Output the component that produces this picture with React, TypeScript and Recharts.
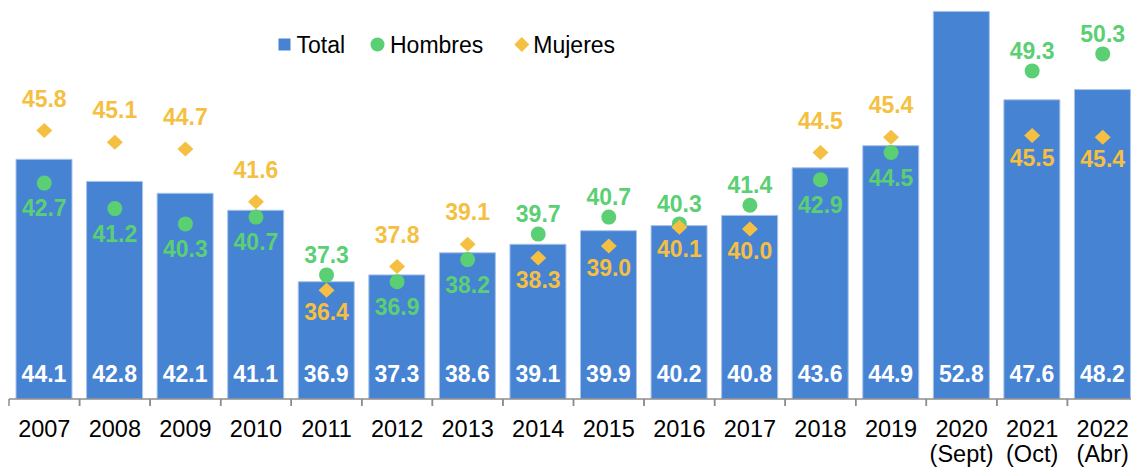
import React from 'react';
import { ComposedChart, Bar, Line, XAxis, YAxis, LabelList } from 'recharts';

const categories = ['2007', '2008', '2009', '2010', '2011', '2012', '2013', '2014', '2015', '2016', '2017', '2018', '2019', '2020 (Sept)', '2021 (Oct)', '2022 (Abr)'];
const total = [44.1, 42.8, 42.1, 41.1, 36.9, 37.3, 38.6, 39.1, 39.9, 40.2, 40.8, 43.6, 44.9, 52.8, 47.6, 48.2];
const hombres: (number | null)[] = [42.7, 41.2, 40.3, 40.7, 37.3, 36.9, 38.2, 39.7, 40.7, 40.3, 41.4, 42.9, 44.5, null, 49.3, 50.3];
const mujeres: (number | null)[] = [45.8, 45.1, 44.7, 41.6, 36.4, 37.8, 39.1, 38.3, 39.0, 40.1, 40.0, 44.5, 45.4, null, 45.5, 45.4];
const hombresLabelSide = ['below', 'below', 'below', 'below', 'above', 'below', 'below', 'above', 'above', 'above', 'above', 'below', 'below', '', 'above', 'above'];
const mujeresLabelSide = ['above', 'above', 'above', 'above', 'below', 'above', 'above', 'below', 'below', 'below', 'below', 'above', 'above', '', 'below', 'below'];

const data = categories.map((c, i) => ({
  category: c,
  total: total[i],
  hombres: hombres[i],
  mujeres: mujeres[i],
}));

const BLUE = '#4683D3';
const GREEN = '#5BCF74';
const GOLD = '#F5BF42';
const FONT = "'Liberation Sans', Arial, sans-serif";

const CHART_W = 1150;
const CHART_H = 470;
const M = { top: 0, right: 12, bottom: 0, left: 9 };
const XAXIS_H = 71;
const PLOT_BOTTOM = CHART_H - M.bottom - XAXIS_H;
const BAND = (CHART_W - M.left - M.right) / categories.length;

const LABEL_SIZE = 23;

function makeDot(kind: 'circle' | 'diamond', color: string, sides: string[], above: number, below: number) {
  return (props: any) => {
    const { cx, cy, index, value } = props;
    const key = `${kind}-${index}`;
    if (value === null || value === undefined || cy === null || cy === undefined || isNaN(cy)) {
      return <g key={key} />;
    }
    const side = sides[index];
    const labelCenter = side === 'above' ? cy - above : cy + below;
    const v = Array.isArray(value) ? value[1] : value;
    return (
      <g key={key}>
        {kind === 'circle' ? (
          <circle cx={cx} cy={cy} r={7.5} fill={color} />
        ) : (
          <path d={`M${cx},${cy - 7.5} L${cx + 8},${cy} L${cx},${cy + 7.5} L${cx - 8},${cy} Z`} fill={color} />
        )}
        <text
          x={cx}
          y={labelCenter + 8.2}
          textAnchor="middle"
          fill={color}
          fontSize={LABEL_SIZE}
          fontWeight="bold"
          fontFamily={FONT}
        >
          {Number(v).toFixed(1)}
        </text>
      </g>
    );
  };
}

const TotalLabel = (props: any) => {
  const { x, y, width, height, value } = props;
  return (
    <text
      x={x + width / 2}
      y={y + height - 17}
      textAnchor="middle"
      fill="#ffffff"
      fontSize={LABEL_SIZE}
      fontWeight="bold"
      fontFamily={FONT}
    >
      {Number(value).toFixed(1)}
    </text>
  );
};

const AxisTick = (props: any) => {
  const { x, payload } = props;
  const parts = String(payload.value).split(' ');
  const bx = x - BAND / 2;
  return (
    <g>
      <line x1={bx} x2={bx} y1={PLOT_BOTTOM} y2={PLOT_BOTTOM + 7} stroke="#8c8c8c" strokeWidth={1.5} />
      <line x1={x + BAND / 2} x2={x + BAND / 2} y1={PLOT_BOTTOM} y2={PLOT_BOTTOM + 7} stroke="#8c8c8c" strokeWidth={1.5} />
      {parts.map((p, i) => (
        <text
          key={i}
          x={x}
          y={PLOT_BOTTOM + 37.5 + i * 25.5}
          textAnchor="middle"
          fill="#000000"
          fontSize={23.5}
          fontFamily={FONT}
        >
          {p}
        </text>
      ))}
    </g>
  );
};

const LegendOverlay = () => (
  <svg
    width={1131}
    height={80}
    style={{ position: 'absolute', left: 0, top: 0, pointerEvents: 'none' }}
  >
    <rect x={278.5} y={38.5} width={12} height={12} fill={BLUE} />
    <text x={296.5} y={52.7} fontSize={23} fontFamily={FONT} fill="#000">Total</text>
    <circle cx={377.5} cy={44.5} r={7} fill={GREEN} />
    <text x={390} y={52.7} fontSize={23} fontFamily={FONT} fill="#000">Hombres</text>
    <path d="M521.8,37 L529.3,44.5 L521.8,52 L514.3,44.5 Z" fill={GOLD} />
    <text x={533.3} y={52.7} fontSize={23} fontFamily={FONT} fill="#000">Mujeres</text>
  </svg>
);

export default function App() {
  return (
    <div
      style={{
        position: 'fixed',
        left: 0,
        top: 0,
        width: 1131,
        height: 470,
        overflow: 'hidden',
        background: '#ffffff',
      }}
    >
      <ComposedChart width={CHART_W} height={CHART_H} data={data} margin={M}>
        <XAxis
          dataKey="category"
          height={XAXIS_H}
          interval={0}
          tickLine={false}
          axisLine={{ stroke: '#8c8c8c', strokeWidth: 1.5 }}
          tick={<AxisTick />}
        />
        <YAxis hide domain={[30, 53.47]} allowDataOverflow />
        <Bar
          dataKey="total"
          fill={BLUE}
          stroke="#a9c3ea"
          strokeWidth={1}
          barSize={56}
          isAnimationActive={false}
        >
          <LabelList dataKey="total" content={<TotalLabel />} />
        </Bar>
        <Line
          dataKey="hombres"
          stroke="none"
          strokeWidth={0}
          isAnimationActive={false}
          activeDot={false}
          connectNulls={false}
          dot={makeDot('circle', GREEN, hombresLabelSide, 20, 25)}
        />
        <Line
          dataKey="mujeres"
          stroke="none"
          strokeWidth={0}
          isAnimationActive={false}
          activeDot={false}
          connectNulls={false}
          dot={makeDot('diamond', GOLD, mujeresLabelSide, 32, 22)}
        />
      </ComposedChart>
      <LegendOverlay />
    </div>
  );
}
